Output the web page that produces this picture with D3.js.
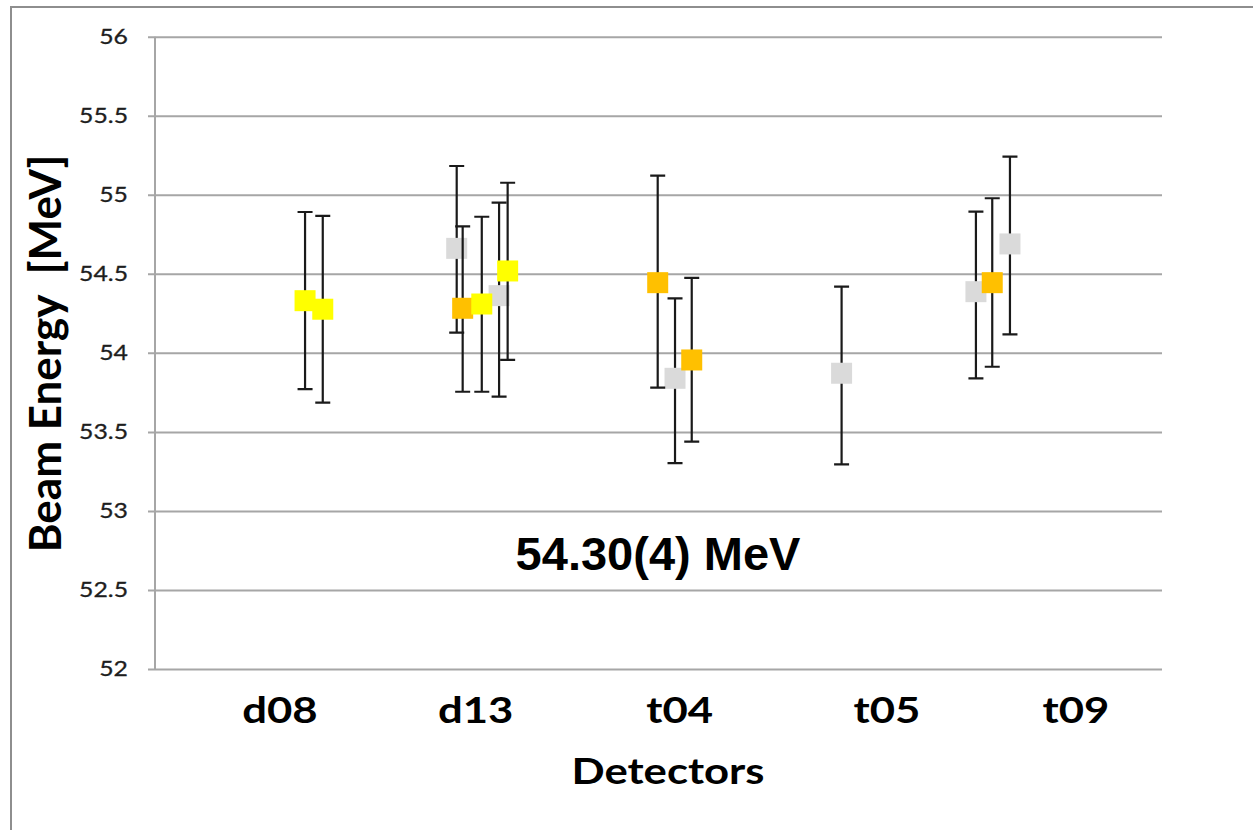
<!DOCTYPE html>
<html>
<head>
<meta charset="utf-8">
<script src="https://cdn.jsdelivr.net/npm/d3@7"></script>
<style>
  html, body { margin: 0; padding: 0; background: #fff; }
  svg { display: block; }
</style>
</head>
<body>
<svg id="chart" width="1253" height="830"></svg>
<script>
// ---------- DATA ----------
const categories = ["d08", "d13", "t04", "t05", "t09"];
const categoryPos = [0, 0.983, 2.008, 3.05, 3.999];   // x position of each detector label (axis units)
const yTicks = [52, 52.5, 53, 53.5, 54, 54.5, 55, 55.5, 56];

// series: x (axis units), value, upper and lower error bar ends (MeV)
const grayX     = [0.888, 1.101, 1.985, 2.822, 3.497, 3.668];
const grayVal   = [54.661, 54.362, 53.839, 53.871, 54.387, 54.689];
const grayHigh  = [55.182, 54.950, 54.345, 54.419, 54.893, 55.241];
const grayLow   = [54.128, 53.723, 53.303, 53.295, 53.839, 54.117];

const orangeX    = [0.918, 1.898, 2.069, 3.579];
const orangeVal  = [54.282, 54.444, 53.955, 54.444];
const orangeHigh = [54.800, 55.121, 54.474, 54.978];
const orangeLow  = [53.754, 53.780, 53.438, 53.912];

const yellowX    = [0.126, 0.215, 1.014, 1.144];
const yellowVal  = [54.330, 54.276, 54.309, 54.518];
const yellowHigh = [54.891, 54.866, 54.861, 55.076];
const yellowLow  = [53.771, 53.685, 53.754, 53.955];

const annotation = "54.30(4) MeV";

// ---------- LAYOUT ----------
const svg = d3.select("#chart");
const plot = { left: 155, right: 1162, top: 36.7, bottom: 669 };

const y = d3.scaleLinear().domain([52, 56]).range([plot.bottom, plot.top]);
const x = d3.scaleLinear().domain([-0.628, 4.432]).range([plot.left, plot.right]);

// outer frame (top + left edges visible)
svg.append("path")
  .attr("d", `M11,832 L11,7 L1260,7`)
  .attr("fill", "none").attr("stroke", "#8e8e8e").attr("stroke-width", 2);

// gridlines + y axis
const yAxis = d3.axisLeft(y).tickValues(yTicks).tickSize(-(plot.right - plot.left)).tickPadding(0).tickFormat("");
const gy = svg.append("g").attr("transform", `translate(${plot.left},0)`).call(yAxis);
gy.select(".domain").remove();
gy.selectAll(".tick line").attr("stroke", "#a6a6a6").attr("stroke-width", 2)
  .attr("x1", -7);
svg.append("line")
  .attr("x1", plot.left).attr("x2", plot.left).attr("y1", plot.top).attr("y2", plot.bottom)
  .attr("stroke", "#a6a6a6").attr("stroke-width", 2);

// y tick labels
svg.append("g").selectAll("text").data(yTicks).join("text")
  .attr("transform", d => `translate(128,${y(d) + 7}) scale(1.18,1)`)
  .attr("text-anchor", "end")
  .attr("font-family", "Lato, sans-serif").attr("font-size", 21)
  .attr("fill", "#1e1e1e").attr("stroke", "#1e1e1e").attr("stroke-width", 0.3)
  .text(d => d3.format("")(d));

// category labels
svg.append("g").selectAll("text").data(categories).join("text")
  .attr("transform", (d, i) => `translate(${x(categoryPos[i])},723) scale(1.18,1)`)
  .attr("text-anchor", "middle")
  .attr("font-family", "Lato, sans-serif").attr("font-weight", "bold").attr("font-size", 37)
  .attr("fill", "#000")
  .text(d => d);

// axis titles
svg.append("text")
  .attr("transform", `translate(668,784) scale(1.18,1)`)
  .attr("text-anchor", "middle")
  .attr("font-family", "Lato, sans-serif").attr("font-weight", "bold").attr("font-size", 37)
  .attr("fill", "#000").text("Detectors");

svg.append("text")
  .attr("transform", `translate(61,353.5) rotate(-90)`)
  .attr("text-anchor", "middle")
  .attr("font-family", "Lato, sans-serif").attr("font-weight", "bold").attr("font-size", 44)
  .attr("fill", "#000").attr("xml:space", "preserve").style("white-space", "pre")
  .text("Beam Energy  [MeV]");

// annotation
svg.append("text")
  .attr("x", 658).attr("y", 570)
  .attr("text-anchor", "middle")
  .attr("font-family", "'Liberation Sans', Arial, sans-serif").attr("font-weight", "bold").attr("font-size", 47)
  .attr("fill", "#000").text(annotation);

// ---------- SERIES ----------
const series = [
  { color: "#dadada", xs: grayX,   v: grayVal,   hi: grayHigh,   lo: grayLow },
  { color: "#ffc000", xs: orangeX, v: orangeVal, hi: orangeHigh, lo: orangeLow },
  { color: "#ffff00", xs: yellowX, v: yellowVal, hi: yellowHigh, lo: yellowLow }
];
const cap = 7.5, ms = 21;

series.forEach(s => {
  const pts = s.xs.map((xv, i) => ({ x: xv, v: s.v[i], hi: s.hi[i], lo: s.lo[i] }));
  const g = svg.append("g");
  const eb = g.append("g").attr("stroke", "#1a1a1a").attr("stroke-width", 2.2).attr("fill", "none");
  eb.selectAll("path").data(pts).join("path")
    .attr("d", d => {
      const cx = x(d.x), yh = y(d.hi), yl = y(d.lo);
      return `M${cx},${yh}V${yl}M${cx - cap},${yh}H${cx + cap}M${cx - cap},${yl}H${cx + cap}`;
    });
  g.append("g").selectAll("rect").data(pts).join("rect")
    .attr("x", d => x(d.x) - ms / 2).attr("y", d => y(d.v) - ms / 2)
    .attr("width", ms).attr("height", ms)
    .attr("fill", s.color);
});
</script>
</body>
</html>
